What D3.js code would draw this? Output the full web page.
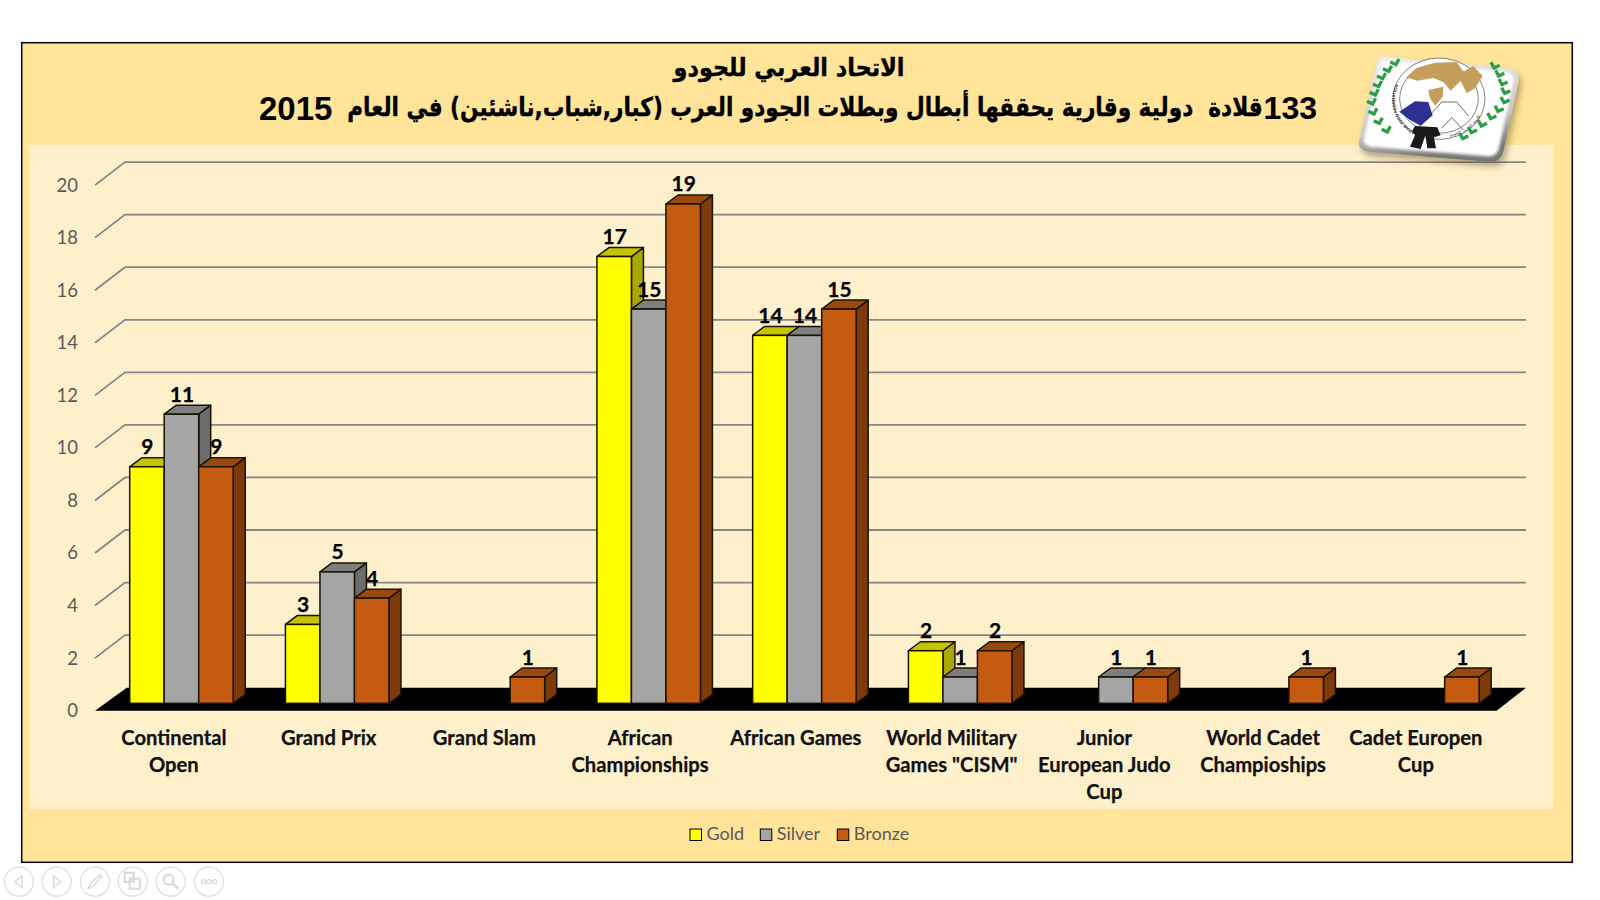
<!DOCTYPE html>
<html>
<head>
<meta charset="utf-8">
<script src="https://cdn.jsdelivr.net/npm/d3@7"></script>
<style>
  body { margin: 0; background: #fff; }
  text { font-family: Lato, "Noto Sans", sans-serif; }
</style>
</head>
<body>
<div class="chart"></div>
<script>
const categories = ["Continental\nOpen", "Grand Prix", "Grand Slam", "African\nChampionships", "African Games",
  "World Military\nGames \"CISM\"", "Junior\nEuropean Judo\nCup", "World Cadet\nChampioships", "Cadet Europen\nCup"];
const gold = [9, 3, 0, 17, 14, 2, 0, 0, 0];
const silver = [11, 5, 0, 15, 14, 1, 1, 0, 0];
const bronze = [9, 4, 1, 19, 15, 2, 1, 1, 1];
const seriesNames = ["Gold", "Silver", "Bronze"];
const yTicks = [0, 2, 4, 6, 8, 10, 12, 14, 16, 18, 20];
const titleLine1 = "الاتحاد العربي للجودو";
const titleCount = "133";
const titleLine2 = "قلادة  دولية وقارية يحققها أبطال وبطلات الجودو العرب (كبار,شباب,ناشئين) في العام";
const titleYear = "2015";

const front = { Gold: "#ffff00", Silver: "#a5a5a5", Bronze: "#c55a11" };
const top_ = { Gold: "#c4c400", Silver: "#7f7f7f", Bronze: "#9a480d" };
const side = { Gold: "#a8a800", Silver: "#6c6c6c", Bronze: "#7d3a0b" };
const values = { Gold: gold, Silver: silver, Bronze: bronze };

const svg = d3.select(".chart").append("svg")
  .attr("width", 1600)
  .attr("height", 900)
  .style("display", "block");

// slide background
svg.append("rect").attr("x", 21.7).attr("y", 42.7).attr("width", 1550.6).attr("height", 819.6)
  .attr("fill", "#ffe499").attr("stroke", "#000").attr("stroke-width", 1.5);
svg.append("rect").attr("x", 29).attr("y", 145).attr("width", 1525).attr("height", 664)
  .attr("fill", "#fff0cc");

// arabic title lines, squeezed sideways to the reference widths
const squeezed = (str, cx, cy, size, width) => {
  const t = svg.append("text").attr("text-anchor", "middle").attr("dominant-baseline", "central")
    .attr("direction", "rtl").style("white-space", "pre")
    .style("font-family", "'DejaVu Sans', sans-serif").style("font-weight", 700).style("font-size", size + "px")
    .attr("stroke", "#000").attr("stroke-width", 0.4)
    .text(str);
  t.attr("transform", "translate(" + cx + "," + cy + ") scale(" + (width / t.node().getComputedTextLength()) + ",1)");
};
squeezed(titleLine1, 789, 68, 25, 231);
squeezed(titleLine2, 805, 107, 26, 916);
svg.append("text").attr("x", 1317).attr("y", 108).attr("text-anchor", "end").attr("dominant-baseline", "central")
  .style("font-family", "'Liberation Sans'").style("font-weight", 700).style("font-size", "32px")
  .text(titleCount);
svg.append("text").attr("x", 259).attr("y", 108).attr("dominant-baseline", "central")
  .style("font-family", "'Liberation Sans'").style("font-weight", 700).style("font-size", "33px")
  .text(titleYear);

// scales
const floorFront = 710.7, floorBack = 687.7, barBase = 703.3;
const x = d3.scaleBand().domain(categories).range([95, 1496.7]);
const xSeries = d3.scaleBand().domain(seriesNames).range([34.7, 138.2]);
const h = d3.scaleLinear().domain([0, 20]).range([0, 525.6]);
const depthX = 12, depthY = 9;

// gridlines
svg.append("g").selectAll("path").data(yTicks.filter(d => d > 0)).enter().append("path")
  .attr("d", d => "M95," + (floorFront - h(d)) + "L125," + (floorBack - h(d)) + "L1526," + (floorBack - h(d)))
  .attr("fill", "none").attr("stroke", "#868686").attr("stroke-width", 1.8);

// floor
svg.append("path").attr("d", "M95," + floorFront + "L126.7," + floorBack + "L1526," + floorBack + "L1496.7," + floorFront + "Z")
  .attr("fill", "#000");

// axes
const yScale = d3.scaleLinear().domain([0, 20]).range([floorFront, floorFront - 525.6]);
const yAxis = svg.append("g").attr("transform", "translate(78,0)")
  .call(d3.axisLeft(yScale).tickValues(yTicks).tickSize(0).tickPadding(0));
yAxis.select(".domain").remove();
yAxis.selectAll("text").style("font-family", "Lato").style("font-size", "18.5px").attr("fill", "#595959");

// office pushed a couple of the wrapped labels left
const labelShift = [1, 0, 0, 0, 0, 0, -3, 0, -3];
const xAxis = svg.append("g").attr("transform", "translate(0,728)")
  .call(d3.axisBottom(x).tickSize(0).tickPadding(0));
xAxis.select(".domain").remove();
xAxis.selectAll("text").each(function (d, k) {
  const t = d3.select(this).text("").attr("y", 0).attr("dy", null)
    .style("font-family", "Lato").style("font-size", "20.2px").style("font-weight", 700)
    .attr("fill", "#111").attr("stroke", "#111").attr("stroke-width", 0.25);
  d.split("\n").forEach((line, i) => {
    t.append("tspan").attr("x", labelShift[k]).attr("y", 17 + i * 27).text(line);
  });
});

// bars: sides and tops go left to right, fronts go on after
const bars = [];
categories.forEach((c, i) => {
  seriesNames.forEach(s => {
    if (values[s][i] > 0) bars.push({ cat: c, series: s, value: values[s][i] });
  });
});
const barX = d => x(d.cat) + xSeries(d.series);
const barW = xSeries.bandwidth();
const barTop = d => barBase - h(d.value);

const backs = svg.append("g").attr("stroke", "#1a1200").attr("stroke-width", 1.5).attr("stroke-linejoin", "round");
bars.forEach(d => {
  const x0 = barX(d), x1 = x0 + barW, t = barTop(d);
  backs.append("path").attr("fill", side[d.series])
    .attr("d", `M${x1},${t}L${x1 + depthX},${t - depthY}L${x1 + depthX},${barBase - depthY}L${x1},${barBase}Z`);
  backs.append("path").attr("fill", top_[d.series])
    .attr("d", `M${x0},${t}L${x0 + depthX},${t - depthY}L${x1 + depthX},${t - depthY}L${x1},${t}Z`);
});

svg.append("g").selectAll("rect").data(bars).enter().append("rect")
  .attr("x", barX)
  .attr("y", barTop)
  .attr("width", barW)
  .attr("height", d => h(d.value))
  .attr("fill", d => front[d.series])
  .attr("stroke", "#1a1200")
  .attr("stroke-width", 1.5);

// data labels
svg.append("g").selectAll("text").data(bars).enter().append("text")
  .attr("x", d => barX(d) + barW / 2 + 0.5)
  .attr("y", d => barTop(d) - 21)
  .attr("text-anchor", "middle")
  .attr("dominant-baseline", "central")
  .style("font-size", "21px")
  .style("font-weight", 700)
  .attr("fill", "#000")
  .attr("stroke", "#000")
  .attr("stroke-width", 0.25)
  .text(d => d.value);

// legend
const legendSwatch = d3.scaleOrdinal().domain(seriesNames).range([690, 760.3, 837.3]);
const legend = svg.append("g").selectAll("g").data(seriesNames).enter().append("g");
legend.append("rect")
  .attr("x", d => legendSwatch(d)).attr("y", 829)
  .attr("width", 11.5).attr("height", 11.5)
  .attr("fill", d => front[d]).attr("stroke", "#000").attr("stroke-width", 1);
legend.append("text")
  .attr("x", d => legendSwatch(d) + 16.5).attr("y", 833)
  .attr("dominant-baseline", "central")
  .style("font-size", "18px").attr("fill", "#595959")
  .text(d => d);

// logo, drawn in the space of the 3x crop
const defs = svg.append("defs");
const shadow = defs.append("filter").attr("id", "shadow").attr("x", "-20%").attr("y", "-20%").attr("width", "140%").attr("height", "140%");
shadow.append("feDropShadow").attr("dx", 8).attr("dy", 14).attr("stdDeviation", 9).attr("flood-color", "#5a4a20").attr("flood-opacity", 0.45);
defs.append("filter").attr("id", "soft").append("feGaussianBlur").attr("stdDeviation", 5);
const grad = defs.append("linearGradient").attr("id", "edge").attr("x1", 0).attr("y1", 0).attr("x2", 0.25).attr("y2", 1);
grad.append("stop").attr("offset", "0%").attr("stop-color", "#f0f0f0");
grad.append("stop").attr("offset", "70%").attr("stop-color", "#c8c8c8");
grad.append("stop").attr("offset", "100%").attr("stop-color", "#777");

const logo = svg.append("g").attr("transform", "translate(1300,40) scale(0.3333)");
const plate = "M260,50L625,85Q662,90 655,125L610,335Q600,370 565,365L205,335Q170,330 178,298L230,72Q235,48 260,50Z";
logo.append("path").attr("d", plate).attr("fill", "url(#edge)").attr("filter", "url(#shadow)");
logo.append("path").attr("d", "M262,62L618,96Q645,100 640,125L597,325Q590,352 560,349L212,320Q188,316 192,295L243,78Q247,60 262,62Z")
  .attr("fill", "#fff").attr("filter", "url(#soft)");
logo.append("ellipse").attr("cx", 417).attr("cy", 176).attr("rx", 138).attr("ry", 122).attr("fill", "#fff").attr("stroke", "#444").attr("stroke-width", 2);
logo.append("ellipse").attr("cx", 417).attr("cy", 176).attr("rx", 118).attr("ry", 104).attr("fill", "none").attr("stroke", "#444").attr("stroke-width", 2);

defs.append("path").attr("id", "ringLeft").attr("d", "M345,276A126,112 0 0 1 330,95");
defs.append("path").attr("id", "ringRight").attr("d", "M450,288A126,112 0 0 0 545,130");
logo.append("text").style("font-family", "'Liberation Sans'").style("font-size", "13px").style("font-weight", 700).attr("fill", "#333")
  .append("textPath").attr("href", "#ringLeft").text("ARAB JUDO FEDERATION");
logo.append("text").style("font-family", "'DejaVu Sans'").style("font-size", "13px").attr("fill", "#333")
  .append("textPath").attr("href", "#ringRight").text("الاتحاد العربي للجودو");

logo.append("path").attr("fill", "#c49f5c")
  .attr("d", "M318,112L350,84L405,68L470,66L490,95L520,78L548,108L525,145L500,160L482,122L452,152L430,126L400,114L352,122Z");
logo.append("path").attr("fill", "#c49f5c")
  .attr("d", "M385,150L430,140L428,170L406,197L390,175Z");
logo.append("path").attr("fill", "#2e3192")
  .attr("d", "M298,215L345,184L385,186L398,226L362,257L330,240Z");
logo.append("path").attr("fill", "none").attr("stroke", "#222").attr("stroke-width", 2)
  .attr("d", "M362,257L425,186L470,186L506,228M425,265L455,233L490,270");
logo.append("path").attr("fill", "#1a1a1a")
  .attr("d", "M345,258L412,262L422,286L402,292L408,325L382,325L376,286L362,327L330,320L345,286L336,274Z");

const leavesLeft = [[288, 74], [266, 94], [248, 116], [236, 140], [226, 165], [218, 192], [222, 222], [238, 250], [262, 276]];
const leavesRight = [[582, 84], [596, 108], [606, 134], [614, 160], [612, 188], [594, 214], [572, 236], [544, 258], [514, 278], [488, 296]];
const drawLeaves = (pts, sign) => {
  logo.append("g").selectAll("path").data(pts).enter().append("path")
    .attr("d", d => "M" + (d[0] + sign * 17) + "," + (d[1] - 8) + "L" + d[0] + "," + d[1] + "L" + (d[0] - sign * 9) + "," + (d[1] - 17))
    .attr("fill", "none").attr("stroke", "#2c9e45").attr("stroke-width", 10);
};
drawLeaves(leavesLeft, -1);
drawLeaves(leavesRight, 1);

// slideshow buttons under the slide
const buttons = [19, 56.7, 95, 132.7, 170.7, 209];
const btnY = 881.7;
svg.append("g").selectAll("circle").data(buttons).enter().append("circle")
  .attr("cx", d => d).attr("cy", btnY).attr("r", 14.5)
  .attr("fill", "none").attr("stroke", "#ddd").attr("stroke-width", 1.2);
const icons = svg.append("g").attr("fill", "none").attr("stroke", "#d8d8d8").attr("stroke-width", 1.3);
icons.append("path").attr("d", `M${buttons[0] + 3},${btnY - 6}L${buttons[0] - 4},${btnY}L${buttons[0] + 3},${btnY + 6}Z`);
icons.append("path").attr("d", `M${buttons[1] - 3},${btnY - 6}L${buttons[1] + 4},${btnY}L${buttons[1] - 3},${btnY + 6}Z`);
icons.append("path").attr("d", `M${buttons[2] - 7},${btnY + 7}L${buttons[2] - 4},${btnY + 1}L${buttons[2] + 5},${btnY - 7}L${buttons[2] + 7},${btnY - 5}L${buttons[2] - 2},${btnY + 4}Z`);
icons.append("rect").attr("x", buttons[3] - 8).attr("y", btnY - 9).attr("width", 9).attr("height", 9).attr("stroke-width", 2);
icons.append("rect").attr("x", buttons[3] - 3).attr("y", btnY - 3).attr("width", 10).attr("height", 10).attr("stroke-width", 2);
icons.append("circle").attr("cx", buttons[4] - 2).attr("cy", btnY - 2).attr("r", 5).attr("stroke-width", 2);
icons.append("path").attr("d", `M${buttons[4] + 2},${btnY + 2}L${buttons[4] + 8},${btnY + 7}`).attr("stroke-width", 2.5);
[-5.5, 0, 5.5].forEach(dx => {
  icons.append("circle").attr("cx", buttons[5] + dx).attr("cy", btnY).attr("r", 2);
});
</script>
</body>
</html>
